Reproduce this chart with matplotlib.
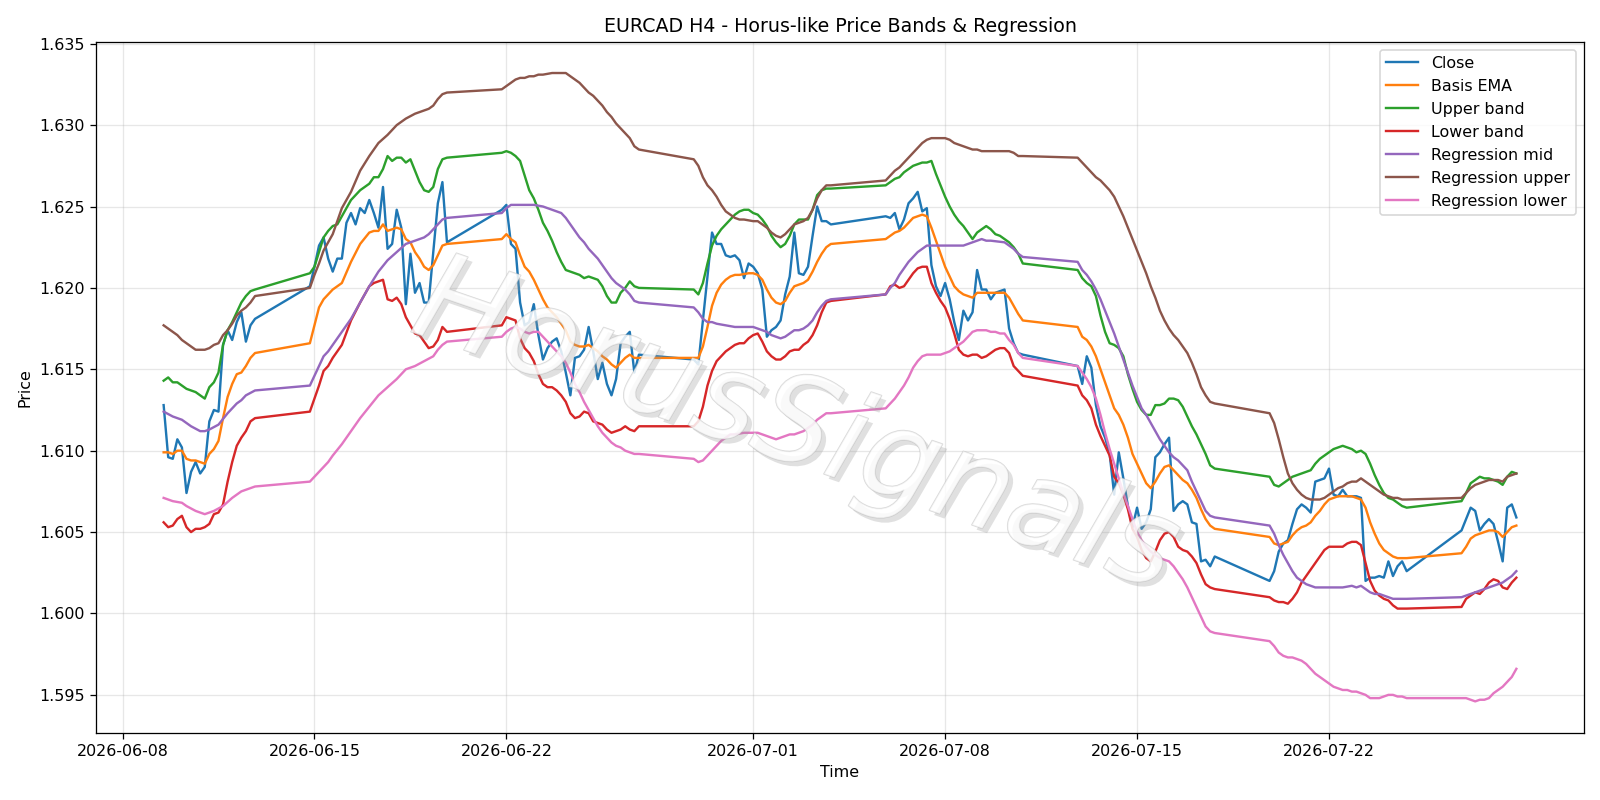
import matplotlib
matplotlib.use("Agg")
import matplotlib.pyplot as plt
import matplotlib.patheffects as pe
import pandas as pd

# EURCAD H4 bars, 2026-06-09 12:00 .. 2026-07-28 20:00
# (market closed on the weekend, the Sunday 20:00 bar is the first of each week)
# one line per trading week, None = value not read off (line just continues)

close = [
    1.6128, 1.6096, 1.6095, 1.6107, 1.6102, 1.6074, 1.6087, 1.6093, 1.6086, 1.6090, 1.6118, 1.6125, 1.6124, 1.6165, 1.6174, 1.6168, 1.6179, 1.6185, 1.6167, 1.6177, 1.6181,
    1.6201, 1.6213, 1.6226, 1.6231, 1.6218, 1.6210, 1.6218, 1.6218, 1.6240, 1.6246, 1.6239, 1.6249, 1.6246, 1.6254, 1.6246, 1.6237, 1.6262, 1.6224, 1.6227, 1.6248, 1.6237, 1.6190, 1.6221, 1.6197, 1.6203, 1.6191, 1.6191, 1.6222, 1.6252, 1.6265, 1.6228,
    1.6248, 1.6251, 1.6227, 1.6224, 1.6191, 1.6177, 1.6179, 1.6190, 1.6171, 1.6156, 1.6163, 1.6167, 1.6169, 1.6161, 1.6148, 1.6134, 1.6157, 1.6158, 1.6162, 1.6176, 1.6161, 1.6144, 1.6154, 1.6141, 1.6134, 1.6144, 1.6166, 1.6170, 1.6173, 1.6148, 1.6159,
    1.6156, 1.6153, None, None, 1.6234, 1.6227, 1.6227, 1.6220, 1.6219, 1.6220, 1.6217, 1.6206, 1.6215, 1.6213, 1.6209, 1.6199, 1.6170, 1.6174, 1.6176, 1.6180, 1.6196, 1.6207, 1.6234, 1.6209, 1.6208, 1.6213, 1.6232, 1.6250, 1.6241, 1.6241, 1.6239,
    1.6244, 1.6243, 1.6246, 1.6236, 1.6242, 1.6252, 1.6255, 1.6259, 1.6247, 1.6249, 1.6214, 1.6201, 1.6195, 1.6203, 1.6193, 1.6179, 1.6168, 1.6186, 1.6180, 1.6185, 1.6211, 1.6199, 1.6199, 1.6193, 1.6197, 1.6198, 1.6199, 1.6175, 1.6166, 1.6160, 1.6159,
    1.6152, 1.6141, 1.6158, 1.6151, 1.6128, 1.6115, 1.6108, 1.6098, 1.6073, 1.6099, 1.6083, 1.6066, 1.6053, 1.6065, 1.6052, 1.6056, 1.6064, 1.6096, 1.6099, 1.6104, 1.6108, 1.6063, 1.6067, 1.6069, 1.6067, 1.6056, 1.6055, 1.6032, 1.6033, 1.6029, 1.6035,
    1.6020, 1.6026, 1.6038, 1.6043, 1.6045, 1.6055, 1.6064, 1.6067, 1.6065, 1.6062, 1.6081, 1.6082, 1.6083, 1.6089, 1.6073, 1.6072, 1.6076, 1.6072, 1.6072, 1.6072, 1.6071, 1.6020, 1.6022, 1.6022, 1.6023, 1.6022, 1.6032, 1.6023, 1.6029, 1.6032, 1.6026,
    1.6051, 1.6058, 1.6065, 1.6063, 1.6051, 1.6055, 1.6058, 1.6055, 1.6044, 1.6032, 1.6065, 1.6067, 1.6059,
]

basis_ema = [
    1.6099, 1.6099, 1.6098, 1.6100, 1.6100, 1.6095, 1.6094, 1.6094, 1.6093, 1.6092, 1.6098, 1.6101, 1.6106, 1.6120, 1.6133, 1.6141, 1.6147, 1.6148, 1.6152, 1.6157, 1.6160,
    1.6166, 1.6177, 1.6188, 1.6193, 1.6196, 1.6199, None, 1.6203, None, 1.6216, None, 1.6227, None, 1.6234, 1.6235, 1.6235, 1.6239, 1.6235, None, 1.6237, 1.6236, 1.6230, 1.6228, 1.6222, 1.6218, 1.6213, 1.6211, 1.6214, 1.6220, 1.6226, 1.6227,
    1.6230, 1.6233, 1.6230, 1.6228, 1.6220, 1.6213, 1.6210, 1.6205, 1.6199, 1.6193, 1.6188, 1.6185, 1.6182, 1.6178, 1.6174, 1.6167, 1.6165, 1.6164, 1.6164, 1.6165, 1.6163, 1.6161, 1.6158, 1.6156, 1.6153, 1.6151, 1.6154, 1.6157, 1.6159, 1.6157, 1.6157,
    1.6157, 1.6157, 1.6164, 1.6176, 1.6189, 1.6197, 1.6202, 1.6205, 1.6207, 1.6208, 1.6208, None, 1.6209, 1.6209, 1.6208, 1.6205, 1.6199, 1.6194, 1.6191, 1.6190, 1.6192, 1.6197, 1.6201, 1.6202, 1.6203, 1.6205, 1.6210, 1.6216, 1.6221, 1.6225, 1.6227,
    1.6230, 1.6232, 1.6234, 1.6235, 1.6237, 1.6240, 1.6243, 1.6244, 1.6245, 1.6244, 1.6237, 1.6229, 1.6221, 1.6213, 1.6207, 1.6201, 1.6198, 1.6196, 1.6195, 1.6194, 1.6197, 1.6197, None, None, None, None, 1.6197, 1.6194, 1.6189, 1.6184, 1.6180,
    1.6176, 1.6170, 1.6168, 1.6164, 1.6158, 1.6150, 1.6142, 1.6134, 1.6126, 1.6122, 1.6116, 1.6108, 1.6098, 1.6092, 1.6086, 1.6080, 1.6077, 1.6081, 1.6086, 1.6090, 1.6091, 1.6088, 1.6085, 1.6082, 1.6080, 1.6076, 1.6071, 1.6064, 1.6058, 1.6054, 1.6052,
    1.6047, 1.6043, 1.6042, 1.6043, 1.6044, 1.6048, 1.6051, 1.6053, 1.6054, 1.6056, 1.6060, 1.6063, 1.6067, 1.6070, 1.6071, 1.6072, 1.6072, 1.6072, 1.6072, 1.6071, 1.6070, 1.6065, 1.6056, 1.6049, 1.6043, 1.6039, 1.6037, 1.6035, 1.6034, 1.6034, 1.6034,
    1.6037, 1.6041, 1.6046, 1.6048, 1.6049, 1.6050, 1.6051, 1.6051, 1.6050, 1.6047, 1.6050, 1.6053, 1.6054,
]

upper_band = [
    1.6143, 1.6145, 1.6142, 1.6142, 1.6140, 1.6138, 1.6137, 1.6136, 1.6134, 1.6132, 1.6139, 1.6142, 1.6148, 1.6165, 1.6174, 1.6179, 1.6185, 1.6191, 1.6195, 1.6198, 1.6199,
    1.6209, 1.6213, 1.6222, 1.6231, 1.6235, 1.6238, 1.6239, 1.6244, None, 1.6254, None, 1.6260, None, 1.6264, 1.6268, 1.6268, 1.6273, 1.6281, 1.6278, 1.6280, 1.6280, 1.6277, 1.6279, 1.6272, 1.6265, 1.6260, 1.6259, 1.6262, 1.6273, 1.6279, 1.6280,
    1.6283, 1.6284, 1.6283, 1.6281, 1.6278, 1.6269, 1.6260, 1.6255, 1.6248, 1.6240, 1.6235, 1.6229, 1.6222, 1.6216, 1.6211, 1.6210, 1.6209, 1.6208, 1.6206, 1.6207, 1.6206, 1.6205, 1.6201, 1.6195, 1.6191, 1.6191, 1.6197, 1.6200, 1.6204, 1.6201, 1.6200,
    1.6199, 1.6196, 1.6203, 1.6215, 1.6226, 1.6232, 1.6236, 1.6239, 1.6242, 1.6245, 1.6247, 1.6248, 1.6248, 1.6246, 1.6245, 1.6242, 1.6238, 1.6232, 1.6228, 1.6225, 1.6227, 1.6232, 1.6239, 1.6242, 1.6242, 1.6242, 1.6248, 1.6257, 1.6260, 1.6261, 1.6261,
    1.6263, 1.6265, 1.6267, 1.6268, 1.6271, 1.6273, 1.6275, 1.6276, 1.6277, 1.6277, 1.6278, 1.6270, 1.6263, 1.6256, 1.6250, 1.6245, 1.6241, 1.6238, 1.6234, 1.6230, 1.6234, 1.6236, 1.6238, 1.6236, 1.6233, 1.6232, 1.6230, 1.6228, 1.6225, 1.6221, 1.6215,
    1.6211, 1.6206, 1.6203, 1.6201, 1.6195, 1.6183, 1.6173, 1.6166, 1.6165, 1.6163, 1.6158, 1.6147, 1.6138, 1.6130, 1.6125, 1.6122, 1.6122, 1.6128, 1.6128, 1.6129, 1.6132, 1.6132, 1.6131, 1.6127, 1.6121, 1.6115, 1.6110, 1.6104, 1.6098, 1.6091, 1.6089,
    1.6084, 1.6079, 1.6078, 1.6080, 1.6082, 1.6084, 1.6085, 1.6086, 1.6087, 1.6088, 1.6092, 1.6095, 1.6097, 1.6099, 1.6101, 1.6102, 1.6103, 1.6102, 1.6101, 1.6099, 1.6100, 1.6098, 1.6092, 1.6085, 1.6079, 1.6074, 1.6071, 1.6070, 1.6068, 1.6066, 1.6065,
    1.6069, 1.6074, 1.6080, 1.6082, 1.6084, 1.6083, 1.6083, 1.6082, 1.6081, 1.6079, 1.6084, 1.6087, 1.6086,
]

lower_band = [
    1.6056, 1.6053, 1.6054, 1.6058, 1.6060, 1.6053, 1.6050, 1.6052, 1.6052, 1.6053, 1.6055, 1.6061, 1.6062, 1.6067, 1.6081, 1.6093, 1.6103, 1.6108, 1.6112, 1.6118, 1.6120,
    1.6124, 1.6132, 1.6140, 1.6149, 1.6152, 1.6157, None, 1.6165, None, 1.6180, None, 1.6191, None, 1.6201, 1.6203, 1.6204, 1.6205, 1.6193, 1.6192, 1.6194, 1.6190, 1.6182, 1.6177, 1.6172, 1.6171, 1.6167, 1.6163, 1.6164, 1.6168, 1.6176, 1.6173,
    1.6177, 1.6182, 1.6181, 1.6180, 1.6169, 1.6163, 1.6160, 1.6155, 1.6147, 1.6141, 1.6139, 1.6139, 1.6137, 1.6134, 1.6130, 1.6123, 1.6120, 1.6121, 1.6124, 1.6123, 1.6118, 1.6117, 1.6116, 1.6113, 1.6111, 1.6112, 1.6113, 1.6115, 1.6113, 1.6112, 1.6115,
    1.6115, 1.6118, 1.6127, 1.6140, 1.6149, 1.6155, 1.6158, 1.6161, 1.6163, 1.6165, 1.6166, 1.6166, 1.6169, 1.6171, 1.6172, 1.6167, 1.6161, 1.6158, 1.6156, 1.6156, 1.6158, 1.6161, 1.6162, 1.6162, 1.6165, 1.6167, 1.6171, 1.6177, 1.6185, 1.6191, 1.6192,
    1.6196, 1.6201, 1.6202, 1.6200, 1.6201, 1.6205, 1.6209, 1.6212, 1.6213, 1.6213, 1.6203, 1.6197, 1.6192, 1.6188, 1.6181, 1.6172, 1.6162, 1.6159, 1.6158, 1.6159, 1.6159, 1.6157, 1.6158, 1.6160, 1.6162, 1.6163, 1.6163, 1.6160, 1.6152, 1.6149, 1.6146,
    1.6140, 1.6134, 1.6131, 1.6126, 1.6116, 1.6109, 1.6103, 1.6097, 1.6084, 1.6080, 1.6073, 1.6064, 1.6052, 1.6047, 1.6039, 1.6034, 1.6032, 1.6038, 1.6045, 1.6049, 1.6050, 1.6047, 1.6041, 1.6039, 1.6038, 1.6035, 1.6031, 1.6024, 1.6018, 1.6016, 1.6015,
    1.6010, 1.6008, 1.6007, 1.6007, 1.6006, 1.6009, 1.6013, 1.6019, 1.6023, 1.6027, 1.6031, 1.6035, 1.6039, 1.6041, 1.6041, 1.6041, 1.6041, 1.6043, 1.6044, 1.6044, 1.6042, 1.6031, 1.6020, 1.6014, 1.6011, 1.6009, 1.6008, 1.6005, 1.6003, 1.6003, 1.6003,
    1.6004, 1.6009, 1.6011, 1.6013, 1.6012, 1.6015, 1.6019, 1.6021, 1.6020, 1.6016, 1.6015, 1.6019, 1.6022,
]

reg_mid = [
    1.6124, None, 1.6121, None, 1.6119, None, 1.6115, None, 1.6112, 1.6112, 1.6113, None, 1.6116, None, 1.6123, None, 1.6129, 1.6131, 1.6134, None, 1.6137,
    1.6140, 1.6146, None, 1.6158, 1.6161, 1.6165, None, 1.6173, None, 1.6181, None, 1.6191, None, 1.6201, None, 1.6210, None, 1.6217, None, 1.6222, None, 1.6227, None, 1.6229, None, 1.6231, 1.6233, 1.6236, 1.6239, 1.6242, 1.6243,
    1.6246, 1.6249, 1.6251, 1.6251, 1.6251, None, 1.6251, 1.6251, None, 1.6250, None, 1.6248, None, 1.6246, 1.6243, 1.6239, 1.6235, 1.6231, 1.6228, 1.6224, 1.6221, 1.6218, 1.6214, 1.6210, 1.6206, 1.6203, 1.6201, 1.6199, 1.6196, 1.6192, 1.6191,
    1.6188, 1.6185, 1.6181, 1.6179, 1.6179, 1.6178, None, 1.6177, None, 1.6176, None, 1.6176, None, 1.6176, 1.6175, 1.6174, 1.6173, 1.6171, 1.6170, 1.6169, 1.6170, 1.6172, 1.6174, 1.6174, 1.6175, 1.6177, 1.6180, 1.6185, 1.6189, 1.6192, 1.6193,
    1.6196, 1.6200, 1.6203, 1.6208, 1.6212, 1.6216, 1.6219, 1.6222, 1.6224, 1.6226, 1.6226, None, 1.6226, None, 1.6226, None, 1.6226, 1.6226, 1.6227, 1.6228, 1.6229, 1.6230, 1.6229, 1.6229, None, None, 1.6228, 1.6226, 1.6224, 1.6221, 1.6219,
    1.6216, 1.6211, 1.6208, 1.6204, 1.6199, 1.6193, 1.6186, 1.6179, 1.6172, 1.6164, 1.6156, 1.6148, 1.6140, 1.6133, 1.6126, 1.6122, 1.6117, 1.6112, 1.6107, 1.6103, 1.6099, 1.6096, 1.6094, 1.6091, 1.6088, 1.6081, 1.6075, 1.6069, 1.6063, 1.6060, 1.6059,
    1.6054, 1.6049, 1.6042, 1.6036, 1.6031, 1.6026, 1.6022, 1.6020, 1.6018, 1.6017, 1.6016, None, None, None, None, None, 1.6016, None, 1.6017, 1.6016, 1.6017, 1.6015, 1.6013, 1.6012, 1.6012, 1.6011, 1.6010, 1.6009, None, None, 1.6009,
    1.6010, 1.6011, 1.6012, 1.6013, 1.6014, 1.6015, 1.6016, 1.6017, 1.6018, 1.6019, 1.6021, 1.6023, 1.6026,
]

reg_upper = [
    1.6177, 1.6175, 1.6173, 1.6171, 1.6168, 1.6166, 1.6164, 1.6162, 1.6162, 1.6162, 1.6163, 1.6165, 1.6166, 1.6171, 1.6174, 1.6178, 1.6183, 1.6186, 1.6188, 1.6191, 1.6195,
    1.6200, 1.6208, 1.6215, 1.6223, 1.6228, 1.6233, None, 1.6249, None, 1.6259, None, 1.6272, None, 1.6281, None, 1.6289, None, 1.6294, None, 1.6300, None, 1.6304, None, 1.6307, None, 1.6309, 1.6310, 1.6312, 1.6316, 1.6319, 1.6320,
    1.6322, 1.6324, 1.6326, 1.6328, 1.6329, 1.6329, 1.6330, 1.6330, 1.6331, 1.6331, None, 1.6332, None, 1.6332, 1.6332, 1.6330, 1.6328, 1.6326, 1.6323, 1.6320, 1.6318, 1.6315, 1.6312, 1.6308, 1.6305, 1.6301, 1.6298, 1.6295, 1.6292, 1.6287, 1.6285,
    1.6279, 1.6275, 1.6268, 1.6263, 1.6260, 1.6256, 1.6251, 1.6247, 1.6245, 1.6243, 1.6242, 1.6242, None, 1.6241, 1.6241, 1.6239, 1.6237, 1.6234, 1.6232, 1.6231, 1.6233, 1.6236, 1.6239, 1.6240, 1.6241, 1.6243, 1.6248, 1.6255, 1.6260, 1.6263, 1.6263,
    1.6266, 1.6269, 1.6272, 1.6274, 1.6277, 1.6280, 1.6283, 1.6286, 1.6289, 1.6291, 1.6292, None, 1.6292, 1.6292, 1.6291, 1.6289, 1.6288, 1.6287, 1.6286, 1.6285, 1.6285, 1.6284, None, None, None, None, 1.6284, 1.6284, 1.6283, 1.6281, 1.6281,
    1.6280, 1.6277, 1.6274, 1.6271, 1.6268, 1.6266, 1.6263, 1.6260, 1.6256, 1.6250, 1.6244, 1.6237, 1.6230, 1.6223, 1.6216, 1.6209, 1.6201, 1.6194, 1.6186, 1.6180, 1.6175, 1.6171, 1.6168, 1.6164, 1.6160, 1.6154, 1.6147, 1.6139, 1.6134, 1.6130, 1.6129,
    1.6123, 1.6117, 1.6107, 1.6096, 1.6086, 1.6080, 1.6076, 1.6073, 1.6071, 1.6070, 1.6070, 1.6070, 1.6071, 1.6073, 1.6075, 1.6077, 1.6078, 1.6080, 1.6081, 1.6081, 1.6083, 1.6081, 1.6079, 1.6077, 1.6075, 1.6073, 1.6072, 1.6071, 1.6071, 1.6070, 1.6070,
    1.6071, 1.6074, 1.6077, 1.6079, 1.6080, 1.6081, 1.6082, 1.6082, 1.6082, 1.6081, 1.6084, 1.6085, 1.6086,
]

reg_lower = [
    1.6071, None, 1.6069, None, 1.6068, 1.6066, None, 1.6063, None, 1.6061, None, 1.6063, None, 1.6066, None, 1.6071, None, 1.6075, None, None, 1.6078,
    1.6081, None, None, None, 1.6093, 1.6097, None, 1.6104, None, 1.6112, None, 1.6120, None, 1.6127, None, 1.6134, None, 1.6139, None, 1.6144, None, 1.6150, None, 1.6152, None, 1.6155, None, 1.6158, 1.6162, 1.6165, 1.6167,
    1.6170, 1.6173, 1.6175, 1.6176, 1.6175, 1.6173, 1.6172, 1.6173, 1.6173, 1.6170, 1.6167, 1.6164, 1.6161, 1.6158, 1.6154, 1.6148, 1.6141, 1.6136, 1.6130, 1.6125, 1.6120, 1.6115, 1.6111, 1.6108, 1.6105, 1.6103, 1.6102, 1.6100, 1.6099, 1.6098, 1.6098,
    1.6095, 1.6093, 1.6094, 1.6097, 1.6100, 1.6103, 1.6106, 1.6108, 1.6110, 1.6110, None, 1.6111, None, 1.6111, 1.6111, 1.6110, 1.6109, 1.6108, 1.6107, 1.6108, 1.6109, 1.6110, 1.6110, 1.6111, 1.6112, 1.6114, 1.6116, 1.6119, 1.6121, 1.6123, 1.6123,
    1.6126, 1.6129, 1.6132, 1.6136, 1.6140, 1.6145, 1.6151, 1.6155, 1.6158, 1.6159, 1.6159, 1.6159, 1.6159, 1.6160, 1.6161, 1.6163, 1.6165, 1.6167, 1.6170, 1.6173, 1.6174, 1.6174, 1.6174, 1.6173, 1.6173, 1.6172, 1.6172, 1.6168, 1.6165, 1.6160, 1.6157,
    1.6152, 1.6148, 1.6144, 1.6139, 1.6132, 1.6122, 1.6111, 1.6101, 1.6092, 1.6083, 1.6074, 1.6066, 1.6058, 1.6050, 1.6045, 1.6041, 1.6038, 1.6036, 1.6034, 1.6033, 1.6032, 1.6029, 1.6025, 1.6021, 1.6016, 1.6010, 1.6004, 1.5998, 1.5992, 1.5989, 1.5988,
    1.5983, 1.5980, 1.5976, 1.5974, 1.5973, 1.5973, 1.5972, 1.5971, 1.5969, 1.5966, 1.5963, 1.5961, 1.5959, 1.5957, 1.5955, 1.5954, 1.5953, 1.5953, 1.5952, 1.5952, 1.5951, 1.5950, 1.5948, 1.5948, 1.5948, 1.5949, 1.5950, 1.5950, 1.5949, 1.5949, 1.5948,
    1.5948, 1.5948, 1.5947, 1.5946, 1.5947, 1.5947, 1.5948, 1.5951, 1.5953, 1.5955, 1.5958, 1.5961, 1.5966,
]


def h4_bars(start, end):
    idx = pd.date_range(start, end, freq="4h")
    keep = (idx.dayofweek < 5) | ((idx.dayofweek == 6) & (idx.hour == 20))
    return idx[keep]


def main():
    bars = h4_bars("2026-06-09 12:00", "2026-07-28 20:00")

    series = [
        ("Close", close),
        ("Basis EMA", basis_ema),
        ("Upper band", upper_band),
        ("Lower band", lower_band),
        ("Regression mid", reg_mid),
        ("Regression upper", reg_upper),
        ("Regression lower", reg_lower),
    ]

    fig, ax = plt.subplots(figsize=(14, 7), dpi=800 / 7)

    for label, values in series:
        assert len(values) == len(bars), (label, len(values), len(bars))
        s = pd.Series(values, index=bars, dtype=float).dropna()
        ax.plot(s.index, s.values, label=label, linewidth=1.5)

    ax.set_title("EURCAD H4 - Horus-like Price Bands & Regression")
    ax.set_xlabel("Time")
    ax.set_ylabel("Price")
    ax.grid(True, alpha=0.3)
    ax.legend(loc="upper right")

    # watermark
    ax.text(
        0.47, 0.44, "HorusSignals",
        transform=ax.transAxes,
        family="DejaVu Sans",
        fontsize=77,
        style="oblique",
        rotation=-19,
        ha="center",
        va="center",
        color="white",
        alpha=0.6,
        zorder=10,
        path_effects=[
            pe.SimplePatchShadow(offset=(3, -3), shadow_rgbFace="0.6", alpha=0.3),
            pe.Stroke(linewidth=0.9, foreground="0.75"),
            pe.Normal(),
        ],
    )

    fig.subplots_adjust(left=0.06, right=0.99, top=0.948, bottom=0.084)
    fig.savefig("out.png", dpi=800 / 7)
    plt.close(fig)


if __name__ == "__main__":
    main()
